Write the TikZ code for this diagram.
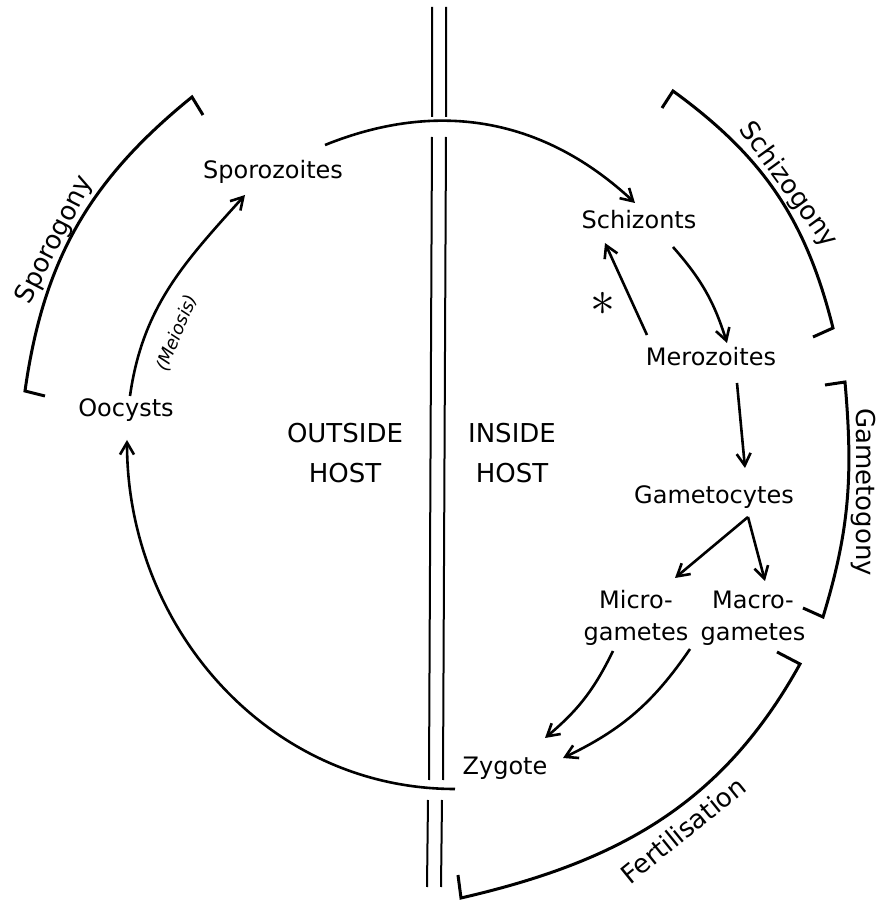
\documentclass[tikz,border=0pt]{standalone}
\usepackage{fontspec}
\setmainfont{DejaVu Sans}
\usetikzlibrary{arrows.meta, calc}

\begin{document}
\begin{tikzpicture}[
    x=0.5pt, y=0.5pt,
    every node/.style={font=\fontsize{12}{16}\selectfont},
    stage/.style={align=center, inner sep=2pt},
    phase/.style={font=\fontsize{13}{15}\selectfont, inner sep=1pt},
    host/.style={align=center, font=\fontsize{13}{20}\selectfont},
    arr/.style={-{Straight Barb[length=6pt, width=7pt]}, line width=1.3pt},
    brk/.style={line width=1.5pt},
    wall/.style={line width=1pt},
  ]
  \useasboundingbox (0,0) rectangle (881,902);
  % --- outside the host
  \node[stage] (spor) at (273,730) {Sporozoites};
  \node[stage] (oocy) at (126,492) {Oocysts};
  % --- inside the host
  \node[stage] (schiz) at (639,682) {Schizonts};
  \node[stage] (mero)  at (711,545) {Merozoites};
  \node[stage] (game)  at (714,405) {Gametocytes};
  \node[stage] (micro) at (636,284) {Micro-\\gametes};
  \node[stage] (macro) at (753,284) {Macro-\\gametes};
  \node[stage] (zyg)   at (505,134) {Zygote};
  % --- host labels
  \node[host] (outh) at (345,449) {OUTSIDE\\HOST};
  \node[host] (inh)  at (512,449) {INSIDE\\HOST};
  % --- the host wall
  \draw[wall] (432,895) -- (432,785) (432,765) -- (429,122) (428,102) -- (427,15);
  \draw[wall] (446,895) -- (446,785) (446,765) -- (443,122) (442,102) -- (441,15);
  % --- cycle
  \draw[arr] ($(spor)+(52,27)$) to[out=22, in=137] ($(schiz)+(-4,17)$);
  \draw[arr] ($(oocy)+(4,14)$) to[out=82, in=-132] ($(spor)+(-28,-23)$);
  \draw[arr] ($(zyg)+(-50,-21)$) to[out=180, in=-90] ($(oocy)+(1,-30)$);
  \draw[arr] ($(schiz)+(34,-27)$) to[bend left=12] ($(mero)+(16,14)$);
  \draw[arr] ($(mero)+(-64,22)$) -- ($(schiz)+(-34,-23)$);
  \draw[arr] ($(mero)+(26,-26)$) -- ($(game)+(31,29)$);
  \draw[arr] ($(game)+(34,-20)$) -- ($(micro)+(39,40)$);
  \draw[arr] ($(game)+(34,-20)$) -- ($(macro)+(12,37)$);
  \draw[arr] ($(micro)+(-23,-33)$) to[bend left=12] ($(zyg)+(40,30)$);
  \draw[arr] ($(macro)+(-63,-31)$) to[bend left=15] ($(zyg)+(58,10)$);
  \node (star) at (603,598) {\fontsize{24}{24}\selectfont$\ast$};
  \node[rotate=68, font=\fontsize{9}{11}\selectfont\itshape] (meio) at (177,569) {(Meiosis)};
  % --- brackets
  \draw[brk] (45,506) -- (25,511) to[out=82, in=219] (192,805) -- (203,787);
  \draw[brk] (662,794) -- (673,811) to[out=-36, in=104] (833,574) -- (813,565);
  \draw[brk] (825,517) -- (845,520) to[out=-85, in=73] (823,285) -- (803,294);
  \draw[brk] (777,250) -- (800,238) to[out=-119, in=13] (461,4) -- (458,27);
  \node[phase, rotate=63]  (sporog) at (55,662)  {Sporogony};
  \node[phase, rotate=-54] (schizg) at (788,717) {Schizogony};
  \node[phase, rotate=-90] (gameg)  at (863,410) {Gametogony};
  \node[phase, rotate=39]  (fert)   at (683,72)  {Fertilisation};
\end{tikzpicture}
\end{document}
